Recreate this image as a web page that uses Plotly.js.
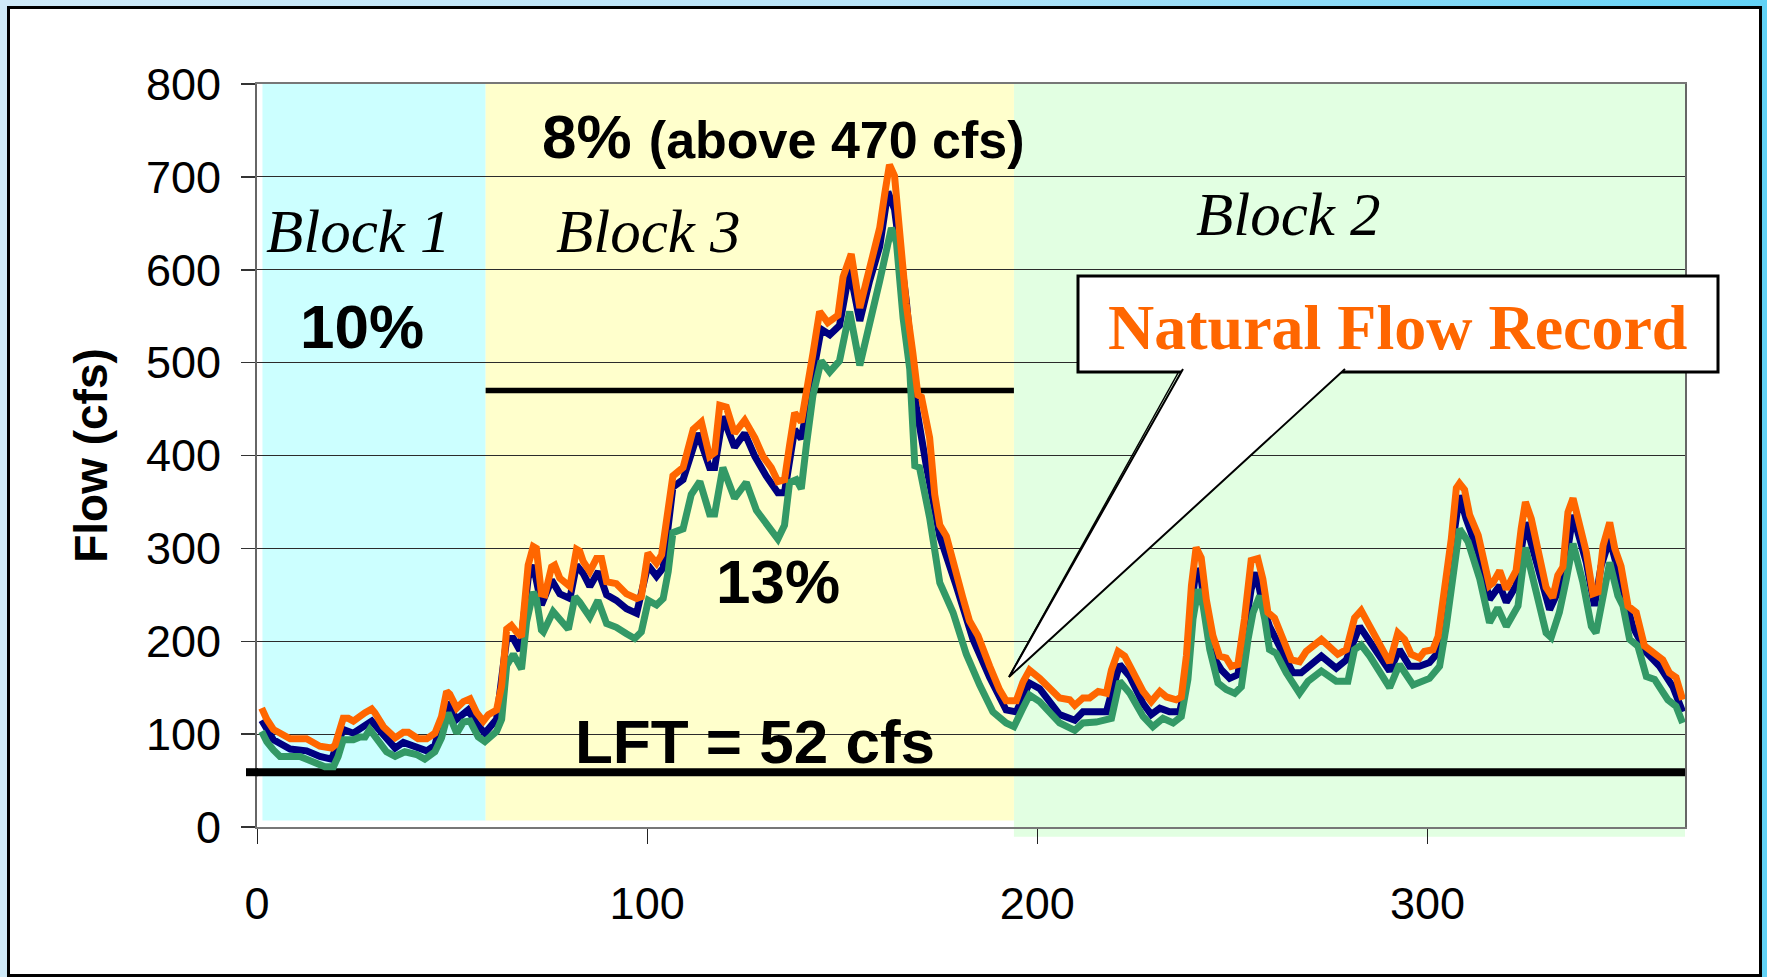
<!DOCTYPE html>
<html>
<head>
<meta charset="utf-8">
<script src="https://cdn.plot.ly/plotly-3.0.1.min.js"></script>
<style>
  html, body { margin: 0; padding: 0; }
  body {
    width: 1767px; height: 977px; overflow: hidden; position: relative;
    background: linear-gradient(90deg, #cfeaf8 0%, #b8e4f8 50%, #62d2f6 100%);
  }
  #frame {
    position: absolute; left: 7px; top: 6px; width: 1749px; height: 965px;
    border: 3px solid #000; background: #ffffff;
  }
  #chart { position: absolute; left: 0; top: 0; width: 1767px; height: 977px; }
</style>
</head>
<body>
<div id="frame"></div>
<div id="chart"></div>
<script>
// ---------- data (day of year, flow in cfs) ----------
const naturalDays = [1.2,2.5,4.2,5.9,8.5,12.7,14.4,16.1,19.1,20,22.1,23.4,24.7,26,27.7,29.4,30.2,32.4,35.4,37.5,38.8,41.3,43.5,45.6,47.3,48.6,49.4,51.2,52.9,54.6,56.3,58,59.3,61.4,62.7,64,65.2,66.5,67.8,69.5,70.8,71.6,72.9,73.8,75.5,76.3,77.6,80.2,81.9,82.7,83.6,85.3,87,88.3,89.6,92.1,94.7,97.3,98.5,100.2,102.4,103.7,105.4,106.6,109.2,111.8,113.9,116,117.3,118.6,120.3,122.4,125,127.6,129.7,131.8,133.5,135.2,136.5,137.8,139.5,140.8,142.5,144.2,146.3,148.9,150.2,152.3,154.5,156.2,157.9,159.6,160.9,162.1,163.4,164.7,166.4,168.1,169.4,170.3,172.4,173.7,175,176.7,178.8,180.9,182.6,184.8,187.8,190.3,192,194.6,196.3,198,200.6,204,205.7,208.3,209.6,211.7,213.4,215.6,217.7,219,220.7,222.4,224.5,227.1,229.2,231.4,233.1,235.6,236.9,238.2,239.5,240.7,242,243.3,245,246.7,248.4,249.7,251.4,253.1,254.8,256.5,257.8,259.1,260.8,262.5,265.1,267.2,268.9,272.8,274.9,277,279.2,281.3,283,285.2,287.7,290.3,292.4,294.1,295.8,297.9,299.2,301.4,302.7,304.4,306.1,307.4,308.2,309.5,310.8,313,314.6,315.9,316.8,318.5,320.2,322.7,324,325.1,326.6,328.7,330.4,332.1,333.4,334.7,336,337.3,338.5,340.7,342.4,343.7,345,346.7,348,349.6,351.4,353.5,355.6,357.8,360.3,362,363.7,365.4];
const naturalFlow = [128,116,105,101,95,95,90,87,85,88,117,117,114,119,123,127,123,108,96,102,102,95,95,101,119,146,143,128,135,138,123,114,121,126,152,213,217,210,205,282,302,300,251,250,280,282,268,259,299,297,286,275,289,289,264,262,251,246,248,295,284,293,350,378,387,428,436,399,403,454,452,424,438,419,399,387,372,374,411,446,436,465,510,555,543,551,592,617,559,588,617,645,682,713,701,637,563,510,465,463,419,358,325,313,276,247,222,206,173,148,136,136,156,169,160,146,139,137,131,139,139,146,144,169,189,184,166,146,135,146,140,137,140,184,260,301,290,245,206,184,182,173,175,224,287,289,267,231,225,209,180,178,189,202,193,186,191,225,233,216,198,177,209,202,186,182,189,191,205,253,310,365,370,363,336,314,281,260,263,276,256,276,321,350,332,292,258,247,271,280,339,354,332,296,251,253,303,328,300,281,238,231,195,189,180,166,161,137];

const navyDays = [1.2,4.2,8.5,12.7,16.1,19.1,22.1,24.7,29.4,32.4,35.4,37.5,41.3,43.5,45.6,48.6,51.2,54.1,56.3,58.4,61.4,64,65.7,67.4,69.5,70.8,72.9,75.5,77.6,80.2,81.9,83.6,85.3,87.5,89.6,92.1,94.7,97.3,100.2,102.4,104.1,106.6,109.2,113,116,117.3,119.4,122.4,125,127.6,130.5,133.5,135.2,137.8,139.5,140.8,142.9,144.6,146.8,149.3,151.9,154.5,157,159.6,161.7,163.4,166.4,169,171.5,175,179.2,183.5,187.8,192,194.6,198,200.6,204,205.7,209.6,211.7,215.6,217.7,219,221.1,223.7,227.1,229.2,231.4,233.9,236.5,238.2,239.5,240.7,242,243.3,245,247.2,249.3,251.4,253.1,254.8,256.1,257.8,259.5,262.1,265.5,267.6,270.2,272.8,276.6,279.2,282.6,285.2,287.7,290.3,292.8,295.4,297.9,300.5,302.7,304.8,306.5,308.2,309.9,313,315.9,318.5,320.2,322.7,325.1,327.4,331.3,333.4,334.7,337.3,340.7,342.8,344.5,346.7,349.2,352.6,356.1,359.5,362.9,365.4];
const navyFlow = [115,94,84,82,76,73,105,101,114,99,85,91,85,82,88,134,116,126,111,101,116,203,203,190,268,282,239,266,251,246,282,273,259,275,250,244,235,230,282,270,279,366,374,424,387,387,442,409,424,399,378,360,360,428,418,448,497,536,530,540,600,545,588,625,684,665,567,452,390,313,260,202,161,126,124,155,149,130,121,115,124,124,124,144,175,162,133,121,128,124,124,159,238,278,267,224,184,169,160,164,206,256,274,238,216,195,166,166,175,184,171,180,216,200,184,168,191,173,173,177,188,245,307,357,332,296,245,260,242,260,328,292,234,253,264,336,285,238,281,310,267,216,188,173,151,124];

const greenDays = [1.2,2.5,4.2,5.9,11,12.7,15.3,17.4,19.6,20.8,22.1,24.7,26.4,27.7,28.9,30.7,33.2,35.4,37.9,40.9,43,45.6,47.3,49,51.2,52.9,54.6,56.7,58.4,61.4,62.7,64,65.7,67.8,69.1,70.8,71.6,72.9,73.4,75.9,77.6,79.8,81.5,82.7,85.3,87.4,89.6,92.1,94.7,96.8,98.5,100.3,102.4,104.1,105.4,106.6,109.2,111.3,113.5,116,117.3,119.4,122.4,125.4,128,131,133.5,135.2,136.5,138.2,139.5,140.8,142.5,144.6,146.8,149.3,151.9,154.5,156.2,159.6,162.6,163.9,165.6,167.3,168.6,169.8,172.4,175,178.4,181.8,185.2,188.6,192,194,196.3,198,200.6,204,205.7,209.6,211.7,215.1,219,221.1,223.7,227.1,229.6,232.2,234.8,236.9,238.6,239.9,241.2,242.5,244.2,246.3,248.4,250.6,252.3,254,255.3,257,258.3,259.5,261.2,263.8,267.2,269.4,272.8,276.6,279.6,281.3,283,285.2,287.7,290.3,292.8,296.3,300.5,303.1,304.8,306.5,308.2,310.4,313.4,315.9,318,320.2,323.2,325.1,327.9,330.4,331.7,333.8,335.6,337.3,339.8,342,343.2,345,346.7,348.8,350.1,351.8,353.9,356.1,358.2,359.9,361.6,363.7,365.4];
const greenFlow = [103,92,83,76,76,73,68,65,65,76,94,94,97,97,105,94,81,76,81,78,73,81,96,123,101,113,114,97,92,103,116,174,186,170,221,253,246,212,210,232,224,213,248,242,226,244,219,215,208,203,210,244,239,246,275,317,321,358,372,337,337,387,354,371,341,325,310,325,371,374,364,411,465,502,490,502,555,497,530,588,645,629,548,493,389,387,333,263,231,186,153,124,112,108,128,142,135,119,112,104,112,113,117,157,144,119,108,117,112,119,159,224,256,238,191,155,148,144,151,202,231,249,224,191,187,166,144,157,168,157,157,191,196,184,166,150,175,153,160,173,216,267,321,307,267,220,236,216,238,301,256,209,204,231,267,305,264,216,209,253,285,249,238,202,195,162,159,148,137,130,112];

// reference levels and block boundaries (days / cfs)
const blockEdges = [1.4, 58.6, 194, 366];
const blockNames = ["Block 1", "Block 3", "Block 2"];
const blockColors = ["#ccffff", "#ffffcc", "#e2ffe2"];
const block3Threshold = 470;   // "above 470 cfs" line
const lftLineLevel = 59;       // drawn position of the LFT line
const xTicks = [0, 100, 200, 300];

// ---------- traces ----------
const traces = [
  {x: navyDays, y: navyFlow, type: "scatter", mode: "lines",
   line: {color: "#000080", width: 7}, hoverinfo: "skip"},
  {x: greenDays, y: greenFlow, type: "scatter", mode: "lines",
   line: {color: "#339966", width: 7}, hoverinfo: "skip"},
  {x: naturalDays, y: naturalFlow, type: "scatter", mode: "lines",
   line: {color: "#ff6600", width: 7}, hoverinfo: "skip"}
];

// paper helpers for the plot area (l=257, r=1685, t=84, b=827)
const px = v => (v - 257) / 1428;
const py = v => (827 - v) / 743;

const shapes = [
  // block backgrounds
  {type: "rect", xref: "x", yref: "y", x0: blockEdges[0], x1: blockEdges[1], y0: 7, y1: 800,
   fillcolor: blockColors[0], line: {width: 0}, layer: "below"},
  {type: "rect", xref: "x", yref: "y", x0: blockEdges[1], x1: blockEdges[2], y0: 7, y1: 800,
   fillcolor: blockColors[1], line: {width: 0}, layer: "below"},
  {type: "rect", xref: "x", yref: "paper", x0: blockEdges[2], x1: blockEdges[3], y0: -0.013, y1: 1,
   fillcolor: blockColors[2], line: {width: 0}, layer: "below"},
  // 470 cfs line over Block 3
  {type: "line", xref: "x", yref: "y", x0: blockEdges[1], x1: blockEdges[2],
   y0: block3Threshold, y1: block3Threshold, line: {color: "#000", width: 5.5}, layer: "between"},
  // LFT line (inside plot) and its short stub left of the axis
  {type: "line", xref: "x", yref: "y", x0: -5, x1: 366,
   y0: lftLineLevel, y1: lftLineLevel, line: {color: "#000", width: 8}, layer: "between"},
  {type: "line", xref: "paper", yref: "paper", x0: px(246), x1: px(258),
   y0: py(827 - lftLineLevel * 743 / 800), y1: py(827 - lftLineLevel * 743 / 800),
   line: {color: "#000", width: 8}, layer: "above"},
  // callout box
  {type: "rect", xref: "paper", yref: "paper", x0: px(1078), x1: px(1718), y0: py(372), y1: py(276),
   fillcolor: "#ffffff", line: {color: "#000", width: 3}, layer: "above"},
  // callout pointer
  {type: "path", xref: "paper", yref: "paper", layer: "above",
   path: `M ${px(1183)} ${py(369)} L ${px(1009)} ${py(677)} L ${px(1345)} ${py(369)}`,
   fillcolor: "#ffffff", line: {color: "#000", width: 2}},
  {type: "line", xref: "paper", yref: "paper", layer: "above",
   x0: px(1178), y0: py(373), x1: px(1009), y1: py(677), line: {color: "#000", width: 1.5}}
];

const serifIt = {family: "Liberation Serif, Times New Roman, serif", size: 61, color: "#000", style: "italic"};
const sansB = {family: "Liberation Sans, Arial, sans-serif", size: 62, color: "#000", weight: "bold"};

const annotations = [
  {xref: "x", yref: "y", x: 25.9, y: 641, text: blockNames[0], showarrow: false, font: serifIt},
  {xref: "x", yref: "y", x: 100.4, y: 641, text: blockNames[1], showarrow: false, font: serifIt},
  {xref: "x", yref: "y", x: 264.4, y: 660, text: blockNames[2], showarrow: false, font: serifIt},
  {xref: "x", yref: "y", x: 26.8, y: 539, text: "<b>10%</b>", showarrow: false, font: sansB},
  {xref: "x", yref: "y", x: 135, y: 744,
   text: "<b>8% <span style=\"font-size:52px\">(above 470 cfs)</span></b>", showarrow: false, font: sansB},
  {xref: "x", yref: "y", x: 133.5, y: 264, text: "<b>13%</b>", showarrow: false, font: sansB},
  {xref: "x", yref: "y", x: 127.6, y: 92, text: "<b>LFT = 52 cfs</b>", showarrow: false, font: sansB},
  {xref: "paper", yref: "paper", x: px(1397), y: py(327), xanchor: "center", yanchor: "middle",
   text: "<b>Natural Flow Record</b>", showarrow: false,
   font: {family: "Liberation Serif, Times New Roman, serif", size: 64, color: "#ff6600"}}
];

const layout = {
  width: 1767, height: 977,
  margin: {l: 257, r: 82, t: 84, b: 150, pad: 0},
  paper_bgcolor: "rgba(0,0,0,0)",
  plot_bgcolor: "rgba(0,0,0,0)",
  showlegend: false,
  xaxis: {
    range: [0, 366], tickvals: xTicks, ticktext: xTicks.map(String),
    ticks: "outside", ticklen: 15, tickwidth: 1, tickcolor: "#222",
    showgrid: false, zeroline: false,
    showline: true, linecolor: "#777", linewidth: 2, mirror: true,
    tickfont: {family: "Liberation Sans, Arial, sans-serif", size: 45, color: "#000"},
    ticklabelstandoff: 21
  },
  yaxis: {
    range: [0, 800], dtick: 100, tick0: 0,
    ticks: "outside", ticklen: 14, tickwidth: 1.5, tickcolor: "#333",
    showgrid: true, gridcolor: "#2b2b2b", gridwidth: 1, zeroline: false,
    showline: true, linecolor: "#666", linewidth: 2, mirror: true,
    tickfont: {family: "Liberation Sans, Arial, sans-serif", size: 45, color: "#000"},
    ticklabelstandoff: 11,
    title: {text: "<b>Flow (cfs)</b>", standoff: 24,
            font: {family: "Liberation Sans, Arial, sans-serif", size: 46, color: "#000"}}
  },
  shapes: shapes,
  annotations: annotations
};

Plotly.newPlot("chart", traces, layout, {displayModeBar: false, staticPlot: true});
</script>
</body>
</html>
